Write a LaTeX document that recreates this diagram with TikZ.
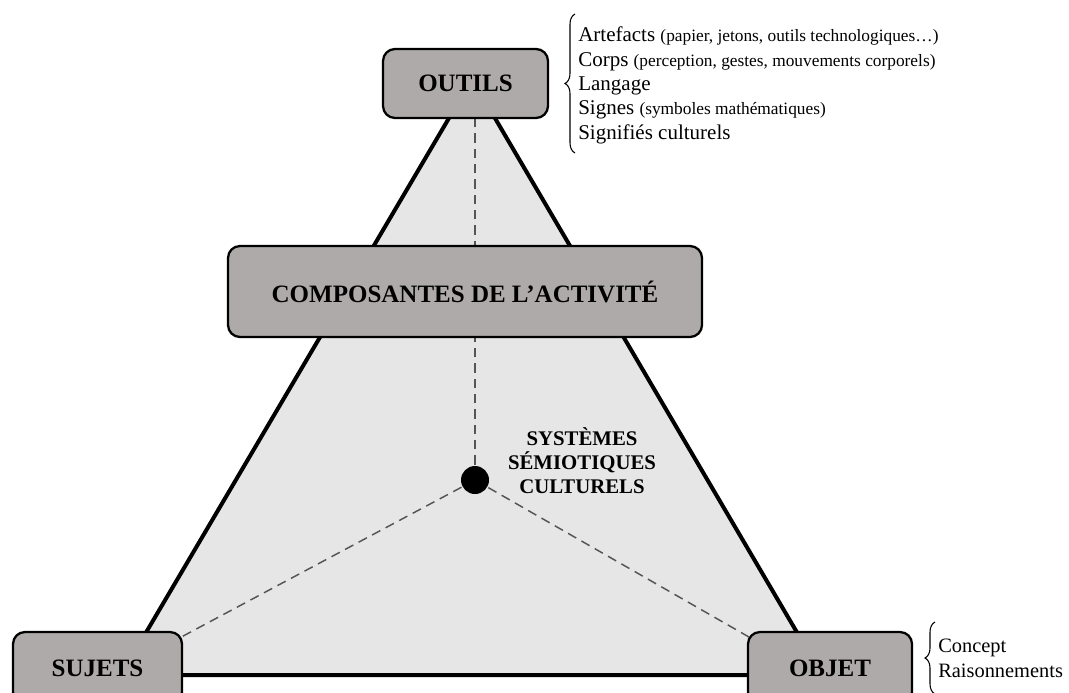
\documentclass[tikz,border=0pt]{standalone}
\usepackage{fontspec}
\setmainfont{Liberation Serif}
\usetikzlibrary{backgrounds,decorations.pathreplacing}
\definecolor{boxgray}{HTML}{AEAAA9}
\definecolor{trigray}{HTML}{E6E6E6}
\definecolor{dashgray}{HTML}{555555}
\newcommand\mysmallfont{\fontsize{13}{15}\selectfont}
\tikzset{
  compbox/.style={draw=black, line width=1.7pt, fill=boxgray, rounded corners=9pt,
    inner sep=0pt, font=\fontsize{18.75}{22}\selectfont\bfseries},
  dashline/.style={draw=dashgray, line width=1.1pt, dash pattern=on 7pt off 4.5pt},
  tri/.style={draw=black, line width=3pt, fill=trigray, line join=miter},
  bigtxt/.style={inner sep=0pt, anchor=base west, font=\fontsize{15.75}{18}\selectfont},
  listtxt/.style={inner sep=0pt, anchor=base west, font=\fontsize{15.3}{18}\selectfont},
  bracestyle/.style={draw=black, line width=0.8pt, decorate,
    decoration={brace, amplitude=7.5pt}},
}
\begin{document}
\begin{tikzpicture}[x=0.75pt,y=-0.75pt]
\useasboundingbox (0,0) rectangle (1069,692);
% nodes
\node[compbox, minimum width=123.75pt, minimum height=51.75pt] (outils) at (465.5,83.5) {OUTILS};
\node[compbox, minimum width=355.5pt, minimum height=68.25pt] (comp) at (465,291.5) {COMPOSANTES DE L’ACTIVITÉ};
\node[compbox, minimum width=126.75pt, minimum height=54pt] (sujets) at (97.5,668) {SUJETS};
\node[compbox, minimum width=123pt, minimum height=54pt] (objet) at (830,668) {OBJET};
\node[circle, fill=black, inner sep=0pt, minimum size=21pt] (dot) at (475,480) {};
\node[align=center, inner sep=0pt, font=\fontsize{15.6}{18}\selectfont\bfseries] (sys) at (582,461)
  {SYSTÈMES\\SÉMIOTIQUES\\CULTURELS};
% background: triangle and dashed lines
\begin{scope}[on background layer]
  \coordinate (apex) at (472,79);
  \coordinate (bl) at (121,675);
  \coordinate (br) at (822,675);
  \draw[tri] (apex) -- (bl) -- (br) -- cycle;
  \draw[dashline] (dot.center) -- (outils.south -| dot.center);
  \draw[dashline] (dot.center) -- ([xshift=-4pt,yshift=-6pt]sujets.north east);
  \draw[dashline] (dot.center) -- ([xshift=4pt,yshift=-6pt]objet.north west);
\end{scope}
% brace list for OUTILS
\coordinate (ob1) at (575,153);
\coordinate (ob2) at (575,14);
\draw[bracestyle] (ob1) -- (ob2);
\node[bigtxt] (l1) at (578,42) {Artefacts {\mysmallfont(papier, jetons, outils technologiques…)}};
\node[bigtxt] (l2) at (578,66.3) {Corps {\mysmallfont(perception, gestes, mouvements corporels)}};
\node[bigtxt] (l3) at (578,90.6) {Langage};
\node[bigtxt] (l4) at (578,114.9) {Signes {\mysmallfont(symboles mathématiques)}};
\node[bigtxt] (l5) at (578,139.2) {Signifiés culturels};
% brace list for OBJET
\coordinate (jb1) at (935,694);
\coordinate (jb2) at (935,622);
\draw[bracestyle] (jb1) -- (jb2);
\node[listtxt] (c1) at (938,652) {Concept};
\node[listtxt] (c2) at (938,677) {Raisonnements};
\end{tikzpicture}
\end{document}
